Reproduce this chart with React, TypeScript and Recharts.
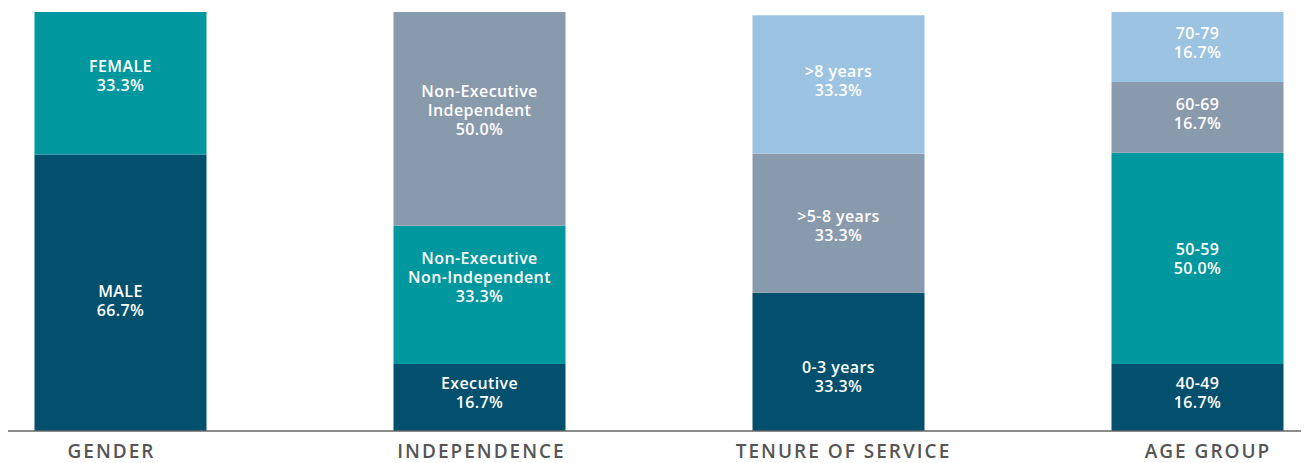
import { BarChart, Bar, XAxis, YAxis, Cell, LabelList } from 'recharts';

const categories = ['GENDER', 'INDEPENDENCE', 'TENURE OF SERVICE', 'AGE GROUP'];

// segment values, bottom to top, as drawn
const seg0 = [66, 16, 33, 16];
const seg1 = [34, 33, 33.2, 50.4];
const seg2 = [0, 51, 33, 16.9];
const seg3 = [0, 0, 0, 16.7];

const labels0 = ['MALE|66.7%', 'Executive|16.7%', '0-3 years|33.3%', '40-49|16.7%'];
const labels1 = ['FEMALE|33.3%', 'Non-Executive|Non-Independent|33.3%', '>5-8 years|33.3%', '50-59|50.0%'];
const labels2 = ['', 'Non-Executive|Independent|50.0%', '>8 years|33.3%', '60-69|16.7%'];
const labels3 = ['', '', '', '70-79|16.7%'];

const DARK = '#03506e';
const TEAL = '#00989e';
const GREY = '#8a9aad';
const LIGHT = '#9dc3e3';

const colors = [
  [DARK, TEAL, GREY, LIGHT],
  [DARK, TEAL, GREY, LIGHT],
  [DARK, GREY, LIGHT, LIGHT],
  [DARK, TEAL, GREY, LIGHT],
];

// vertical nudge of each label block from the segment centre (px)
const labelNudge: Record<string, number> = {
  'MALE|66.7%': 8,
  'FEMALE|33.3%': -7,
  'Executive|16.7%': -4,
  'Non-Executive|Non-Independent|33.3%': -17,
  'Non-Executive|Independent|50.0%': -8,
  '0-3 years|33.3%': 15,
  '>5-8 years|33.3%': 3,
  '>8 years|33.3%': -3,
  '40-49|16.7%': -4,
  '50-59|50.0%': 1,
  '60-69|16.7%': -3,
  '70-79|16.7%': -4,
};

// horizontal nudge of the category titles under the bars (px)
const tickNudge: Record<string, number> = {
  GENDER: -8.5,
  INDEPENDENCE: 2.5,
  'TENURE OF SERVICE': 5.5,
  'AGE GROUP': 11,
};

const data = categories.map((name, i) => ({
  name,
  s0: seg0[i],
  s1: seg1[i],
  s2: seg2[i],
  s3: seg3[i],
  l0: labels0[i],
  l1: labels1[i],
  l2: labels2[i],
  l3: labels3[i],
}));

const font = '"Open Sans", sans-serif';

const renderLabel = (props: any) => {
  const { x, y, width, height, value } = props;
  if (!value) return null;
  const lines = String(value).split('|');
  const lh = 19;
  const cx = Number(x) + Number(width) / 2;
  const cy = Number(y) + Number(height) / 2 + (labelNudge[value] ?? 0);
  const start = cy - ((lines.length - 1) * lh) / 2 + 5.5;
  return (
    <text
      textAnchor="middle"
      fill="#fff"
      fontFamily={font}
      fontSize={16}
      fontWeight={600}
      letterSpacing={0.4}
    >
      {lines.map((l, k) => (
        <tspan key={k} x={cx} y={start + k * lh}>
          {l}
        </tspan>
      ))}
    </text>
  );
};

const CategoryTick = (props: any) => {
  const { x, y, payload } = props;
  return (
    <text
      x={x + (tickNudge[payload.value] ?? 0)}
      y={y + 27}
      textAnchor="middle"
      fill="#555"
      fontFamily={font}
      fontSize={19}
      fontWeight={600}
      letterSpacing={2}
    >
      {payload.value}
    </text>
  );
};

export default function App() {
  const keys = ['s0', 's1', 's2', 's3'];
  return (
    <div style={{ width: 1301, height: 455, overflow: 'hidden' }}>
      <BarChart
        width={1301}
        height={455}
        data={data}
        margin={{ top: 4, right: -67.5, left: -67.5, bottom: 0 }}
      >
        <XAxis
          dataKey="name"
          height={32}
          tickLine={false}
          tickSize={0}
          tickMargin={0}
          axisLine={{ stroke: '#666', strokeWidth: 1.5 }}
          tick={<CategoryTick />}
          interval={0}
        />
        <YAxis hide domain={[0, 100]} />
        {keys.map((k, si) => (
          <Bar key={k} dataKey={k} stackId="a" barSize={172} isAnimationActive={false}>
            {data.map((d, i) => (
              <Cell key={i} fill={colors[i][si]} />
            ))}
            <LabelList dataKey={`l${si}`} content={renderLabel} />
          </Bar>
        ))}
      </BarChart>
    </div>
  );
}
